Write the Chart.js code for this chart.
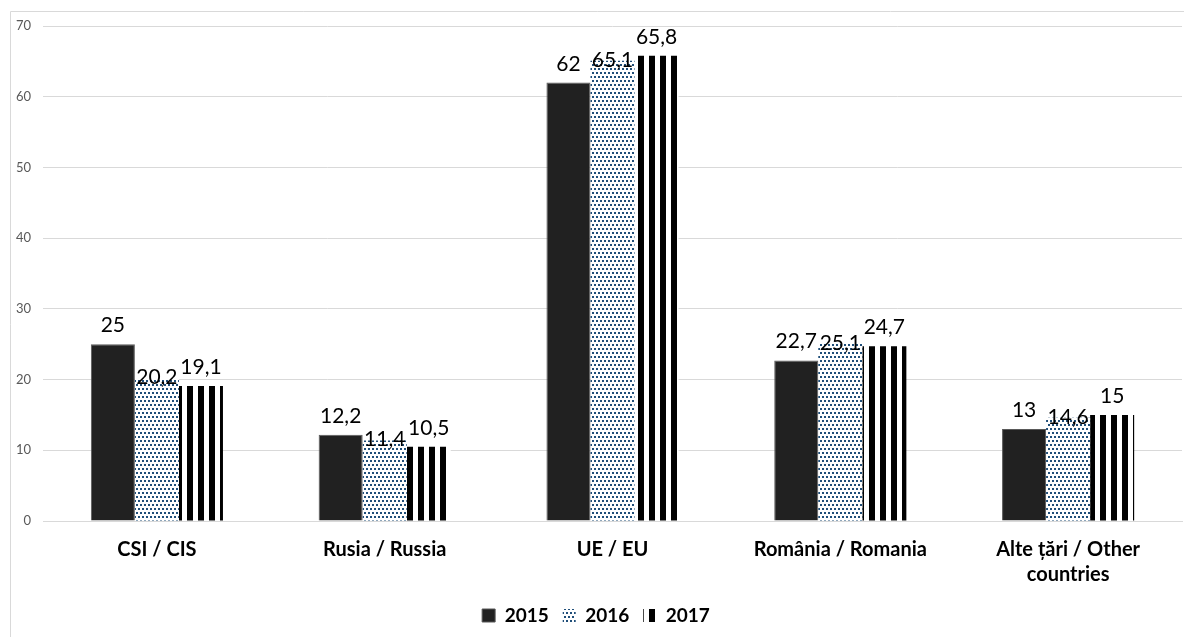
<!DOCTYPE html>
<html>
<head>
<meta charset="utf-8">
<script src="https://cdn.jsdelivr.net/npm/chart.js@4"></script>
<style>
  html, body { margin: 0; padding: 0; background: #fff; }
  #wrap { width: 1184px; height: 637px; position: relative; }
</style>
</head>
<body>
<div id="wrap"><canvas id="myChart" width="1184" height="637"></canvas></div>
<script>
const categories = ['CSI / CIS', 'Rusia / Russia', 'UE / EU', 'România / Romania', ['Alte țări / Other', 'countries']];
const years = ['2015', '2016', '2017'];
const values2015 = [25, 12.2, 62, 22.7, 13];
const values2016 = [20.2, 11.4, 65.1, 25.1, 14.6];
const values2017 = [19.1, 10.5, 65.8, 24.7, 15];
const yTicks = [0, 10, 20, 30, 40, 50, 60, 70];

// patterns like the excel fills
function dotPattern() {
  const c = document.createElement('canvas');
  c.width = 4; c.height = 8;
  const g = c.getContext('2d');
  g.fillStyle = '#fff'; g.fillRect(0, 0, 4, 8);
  g.fillStyle = '#1F4E79';
  g.fillRect(0, 0, 2, 2);
  g.fillRect(2, 4, 2, 2);
  return g.createPattern(c, 'repeat');
}
function stripePattern() {
  const c = document.createElement('canvas');
  c.width = 11; c.height = 4;
  const g = c.getContext('2d');
  g.fillStyle = '#fff'; g.fillRect(0, 0, 11, 4);
  g.fillStyle = '#000';
  g.fillRect(0, 0, 6, 4);
  return g.createPattern(c, 'repeat');
}

const fmt = v => String(v).replace('.', ',');
const labelOffset = [-12, 6, -12];

const valueLabels = {
  id: 'valueLabels',
  afterDatasetsDraw(chart) {
    const ctx = chart.ctx;
    ctx.save();
    ctx.font = '21px Lato';
    ctx.fillStyle = '#000';
    ctx.textAlign = 'center';
    ctx.textBaseline = 'alphabetic';
    chart.data.datasets.forEach((ds, i) => {
      const meta = chart.getDatasetMeta(i);
      meta.data.forEach((bar, j) => {
        ctx.fillText(fmt(ds.data[j]), bar.x, bar.y + labelOffset[i]);
      });
    });
    ctx.restore();
  }
};

const frame = {
  id: 'frame',
  beforeDraw(chart) {
    const ctx = chart.ctx;
    ctx.save();
    ctx.strokeStyle = '#d9d9d9';
    ctx.lineWidth = 1;
    ctx.beginPath();
    ctx.moveTo(10.5, chart.height);
    ctx.lineTo(10.5, 11.5);
    ctx.lineTo(chart.width, 11.5);
    ctx.stroke();
    ctx.restore();
  }
};

const ctx = document.getElementById('myChart');
new Chart(ctx, {
  type: 'bar',
  data: {
    labels: categories,
    datasets: [
      { label: years[0], data: values2015, backgroundColor: '#212121', borderColor: '#595959', borderWidth: 1 },
      { label: years[1], data: values2016, backgroundColor: dotPattern(), borderWidth: 0 },
      { label: years[2], data: values2017, backgroundColor: stripePattern(), borderWidth: 0 }
    ]
  },
  options: {
    responsive: false,
    animation: false,
    devicePixelRatio: 1,
    datasets: { bar: { categoryPercentage: 0.58, barPercentage: 1 } },
    layout: { padding: { left: 10, top: 26, right: 2, bottom: 2 } },
    plugins: {
      legend: {
        position: 'bottom',
        labels: {
          font: { family: 'Lato', size: 19, weight: 'bold' },
          color: '#000',
          boxWidth: 13,
          boxHeight: 13,
          padding: 14
        }
      },
      tooltip: { enabled: false }
    },
    scales: {
      x: {
        grid: { display: false },
        border: { color: '#d9d9d9' },
        ticks: {
          font: { family: 'Lato', size: 20, weight: 'bold', lineHeight: 1.25 },
          color: '#000',
          padding: 8,
          maxRotation: 0
        },
        afterFit(scale) { scale.height = 71; }
      },
      y: {
        min: 0,
        max: 70,
        afterBuildTicks(scale) { scale.ticks = yTicks.map(v => ({ value: v })); },
        grid: { color: '#d9d9d9', drawTicks: false },
        border: { display: false },
        ticks: {
          font: { family: 'Lato', size: 13 },
          color: '#595959',
          padding: 12
        },
        afterFit(scale) { scale.width = 33; }
      }
    }
  },
  plugins: [frame, valueLabels]
});
</script>
</body>
</html>
